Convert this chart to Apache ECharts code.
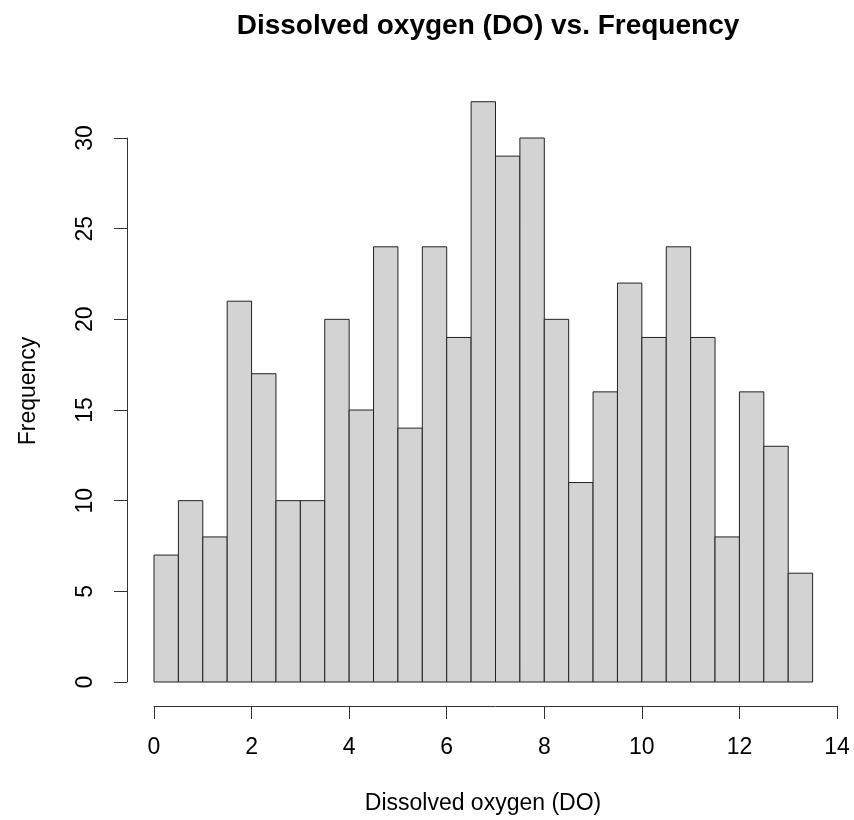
<!DOCTYPE html>
<html>
<head>
<meta charset="utf-8">
<script src="https://cdn.jsdelivr.net/npm/echarts@6/dist/echarts.min.js"></script>
<style>html,body{margin:0;padding:0;background:#fff}#c{width:854px;height:820px}</style>
</head>
<body>
<div id="c"></div>
<script>
// Histogram bins (edges) and counts
const binEdges = [0, 0.5, 1, 1.5, 2, 2.5, 3, 3.5, 4, 4.5, 5, 5.5, 6, 6.5, 7, 7.5, 8, 8.5, 9, 9.5, 10, 10.5, 11, 11.5, 12, 12.5, 13, 13.5];
const counts = [7, 10, 8, 21, 17, 10, 10, 20, 15, 24, 14, 24, 19, 32, 29, 30, 20, 11, 16, 22, 19, 24, 19, 8, 16, 13, 6];
const titleText = 'Dissolved oxygen (DO) vs. Frequency';
const xLabel = 'Dissolved oxygen (DO)';
const yLabel = 'Frequency';

const FONT = '"Liberation Sans", Arial, sans-serif';
const data = counts.map((c, i) => [binEdges[i], binEdges[i + 1], c]);

const chart = echarts.init(document.getElementById('c'), null, {renderer: 'canvas'});
chart.setOption({
  backgroundColor: '#ffffff',
  animation: false,
  title: {
    text: titleText,
    left: 483,
    top: 7,
    textAlign: 'center',
    textStyle: {fontFamily: FONT, fontWeight: 'bold', fontSize: 28, color: '#000'}
  },
  graphic: [
    {type: 'text', x: 483, y: 804, style: {text: xLabel, align: 'center', verticalAlign: 'middle', font: '23px ' + FONT, fill: '#000'}},
    {type: 'text', x: 29, y: 391, rotation: Math.PI / 2, style: {text: yLabel, align: 'center', verticalAlign: 'middle', font: '23px ' + FONT, fill: '#000'}}
  ],
  grid: {left: 154, right: 17, top: 138, bottom: 138, containLabel: false},
  xAxis: {
    type: 'value', min: 0, max: 14, interval: 2, offset: 24,
    axisLine: {show: true, onZero: false, lineStyle: {color: '#333', width: 1}},
    axisTick: {show: true, length: 13, inside: false, lineStyle: {color: '#333', width: 1}},
    axisLabel: {margin: 30, fontSize: 23, fontFamily: FONT, color: '#000'},
    splitLine: {show: false}
  },
  yAxis: {
    type: 'value', min: 0, max: 30, interval: 5, offset: 27,
    axisLine: {show: true, onZero: false, lineStyle: {color: '#333', width: 1}},
    axisTick: {show: true, length: 13, inside: false, lineStyle: {color: '#333', width: 1}},
    axisLabel: {margin: 30, rotate: 90, fontSize: 23, fontFamily: FONT, color: '#000'},
    splitLine: {show: false}
  },
  series: [{
    type: 'custom',
    clip: false,
    data: data,
    encode: {x: [0, 1], y: 2},
    renderItem: function (params, api) {
      const p0 = api.coord([api.value(0), api.value(2)]);
      const p1 = api.coord([api.value(1), 0]);
      return {
        type: 'rect',
        shape: {x: p0[0], y: p0[1], width: p1[0] - p0[0], height: p1[1] - p0[1]},
        style: {fill: '#d3d3d3', stroke: '#222', lineWidth: 1}
      };
    }
  }]
});
</script>
</body>
</html>
